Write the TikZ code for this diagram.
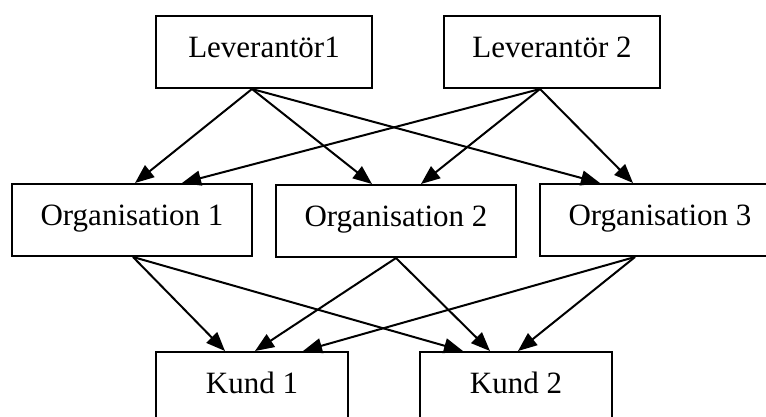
\documentclass[tikz,border=0pt]{standalone}
\usepackage{fontspec}
\setmainfont{Liberation Serif}
\usetikzlibrary{arrows.meta}
\begin{document}
\begin{tikzpicture}[x=1pt,y=-1pt,
  box/.style={draw=black, line width=2pt, rectangle, inner sep=0pt,
    font=\fontsize{31}{36}\selectfont, text height=20pt, text depth=9pt},
  levbox/.style={box, minimum width=216pt, minimum height=72pt},
  orgbox/.style={box, minimum width=240pt, minimum height=72pt},
  kundbox/.style={box, minimum width=192pt, minimum height=72pt},
  conn/.style={line width=2pt, -{Triangle[length=19pt,width=15pt]}}]
\useasboundingbox (0,0) rectangle (766,416);
\clip (0,0) rectangle (766,416);
\node[levbox] (l1) at (264,52) {Leverantör1};
\node[levbox] (l2) at (552,52) {Leverantör 2};
\node[orgbox] (o1) at (132,220) {Organisation 1};
\node[orgbox] (o2) at (396,221) {Organisation 2};
\node[orgbox] (o3) at (660,220) {Organisation 3};
\node[kundbox] (k1) at (252,388) {Kund 1};
\node[kundbox] (k2) at (516,388) {Kund 2};
% sources
\coordinate (s1) at ([xshift=-12pt]l1.south);
\coordinate (s2) at ([xshift=-12pt]l2.south);
\coordinate (t1) at ([xshift=1pt]o1.south);
\coordinate (t2) at (o2.south);
\coordinate (t3) at ([xshift=-25pt]o3.south);
% level 1 -> 2
\draw[conn] (s1) -- ([xshift=3pt]o1.north);
\draw[conn] (s1) -- ([xshift=-24pt]o2.north);
\draw[conn] (s1) -- ([xshift=-60pt]o3.north);
\draw[conn] (s2) -- ([xshift=50pt]o1.north);
\draw[conn] (s2) -- ([xshift=25pt]o2.north);
\draw[conn] (s2) -- ([xshift=-27pt]o3.north);
% level 2 -> 3
\draw[conn] (t1) -- ([xshift=-27pt]k1.north);
\draw[conn] (t1) -- ([xshift=-53pt]k2.north);
\draw[conn] (t2) -- ([xshift=3pt]k1.north);
\draw[conn] (t2) -- ([xshift=-26pt]k2.north);
\draw[conn] (t3) -- ([xshift=51pt]k1.north);
\draw[conn] (t3) -- ([xshift=2pt]k2.north);
\end{tikzpicture}
\end{document}
